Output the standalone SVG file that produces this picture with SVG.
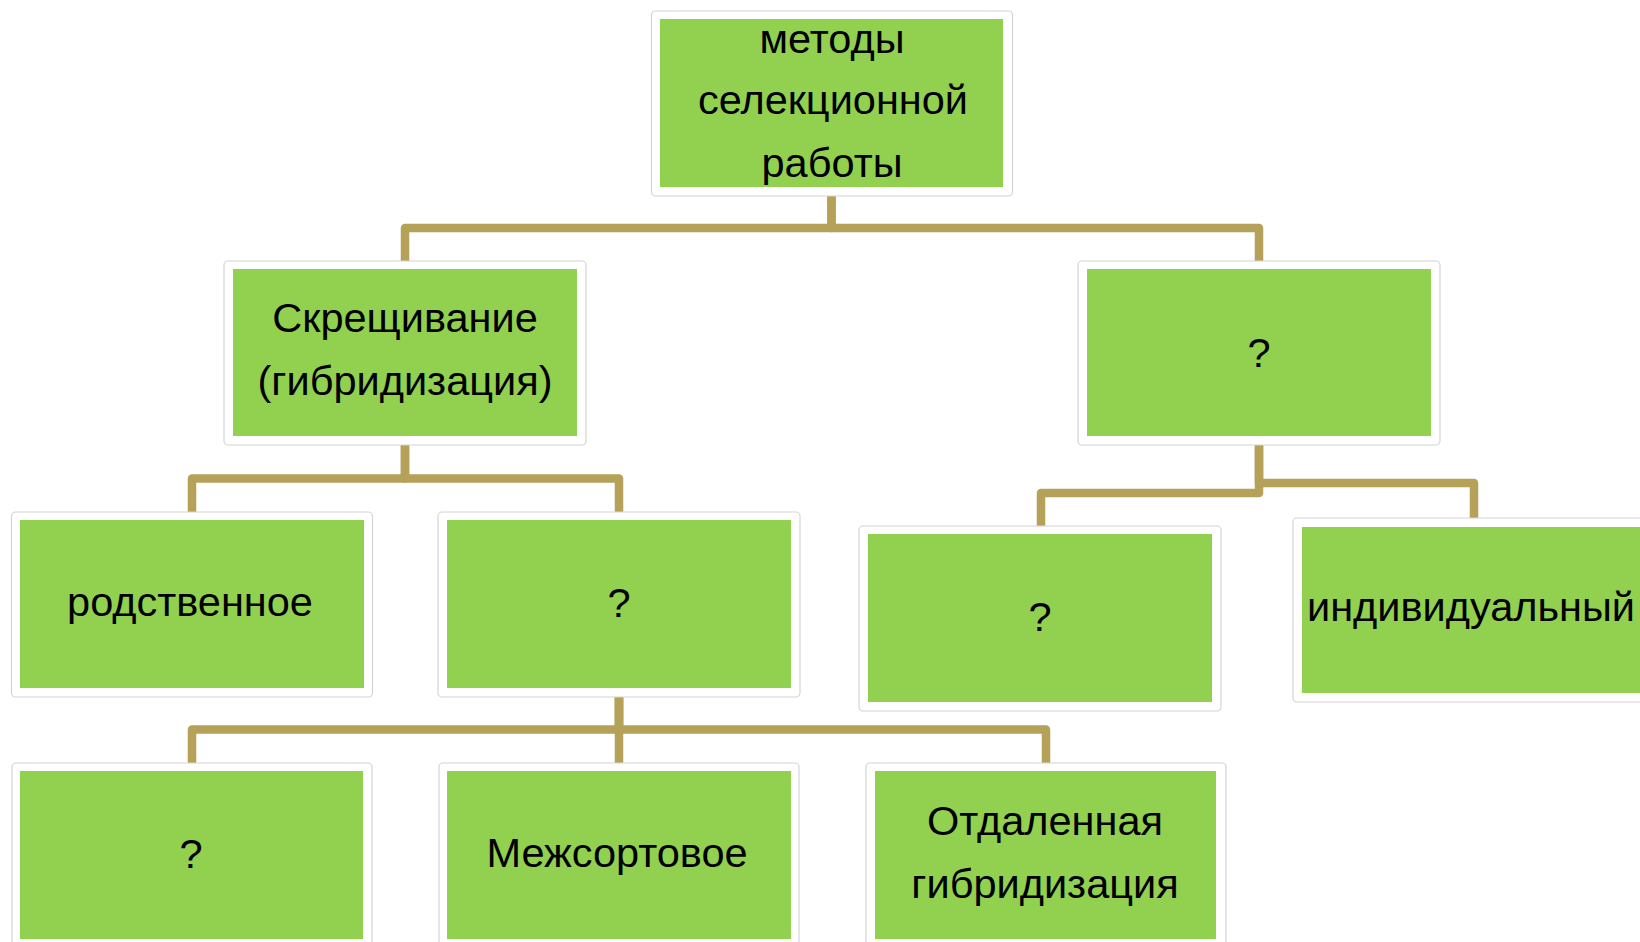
<svg xmlns="http://www.w3.org/2000/svg" width="1640" height="942" viewBox="0 0 1640 942">
<style>
.frame{fill:#ffffff;stroke:#d4d4d4;stroke-width:1.2}
.box{fill:#92D050}
.t{font-family:"Liberation Sans",Arial,sans-serif;font-size:41.5px;fill:#000;text-anchor:middle}
.c{fill:none;stroke:#B5A158;stroke-width:8.5;stroke-linejoin:round;stroke-linecap:butt}
</style>
<rect width="1640" height="942" fill="#ffffff"/>
<g id="connectors">
<path class="c" d="M831.5,196 V228 H405 V261"/>
<path class="c" d="M831.5,196 V228 H1259 V261"/>
<path class="c" d="M405,445 V478.5 H192 V512"/>
<path class="c" d="M405,445 V478.5 H619 V512"/>
<path class="c" d="M1259,445 V493 H1041 V526"/>
<path class="c" d="M1259,445 V483 H1474 V518"/>
<path class="c" d="M619,697 V729.5 H192 V763"/>
<path class="c" d="M619,697 V763"/>
<path class="c" d="M619,697 V729.5 H1046 V763"/>
</g>
<g id="root">
<rect class="frame" x="651.5" y="11" width="361" height="185" rx="4"/>
<rect class="box" x="660" y="19" width="343" height="168"/>
<text class="t" x="832" y="53">методы</text>
<text class="t" x="833" y="114">селекционной</text>
<text class="t" x="832" y="177">работы</text>
</g>
<g id="crossing">
<rect class="frame" x="224" y="261" width="362" height="184" rx="4"/>
<rect class="box" x="233" y="269" width="344" height="167"/>
<text class="t" x="405" y="332">Скрещивание</text>
<text class="t" x="405" y="395">(гибридизация)</text>
</g>
<g id="selection">
<rect class="frame" x="1078" y="261" width="362" height="184" rx="4"/>
<rect class="box" x="1087" y="269" width="344" height="167"/>
<text class="t" x="1259" y="367">?</text>
</g>
<g id="related">
<rect class="frame" x="11.5" y="512" width="361" height="185" rx="4"/>
<rect class="box" x="20" y="520" width="344" height="168"/>
<text class="t" x="190" y="616">родственное</text>
</g>
<g id="unrelated">
<rect class="frame" x="438" y="512" width="362" height="185" rx="4"/>
<rect class="box" x="447" y="520" width="344" height="168"/>
<text class="t" x="619" y="617">?</text>
</g>
<g id="mass">
<rect class="frame" x="859" y="526" width="362" height="185" rx="4"/>
<rect class="box" x="868" y="534" width="344" height="168"/>
<text class="t" x="1040" y="631">?</text>
</g>
<g id="individual">
<rect class="frame" x="1293" y="518" width="362" height="184" rx="4"/>
<rect class="box" x="1302" y="527" width="344" height="166"/>
<text class="t" x="1471" y="621">индивидуальный</text>
</g>
<g id="interline">
<rect class="frame" x="12" y="763" width="360" height="185" rx="4"/>
<rect class="box" x="20" y="771" width="343" height="168"/>
<text class="t" x="191" y="868">?</text>
</g>
<g id="intervarietal">
<rect class="frame" x="439" y="763" width="360" height="185" rx="4"/>
<rect class="box" x="447" y="771" width="344" height="168"/>
<text class="t" x="617" y="867">Межсортовое</text>
</g>
<g id="distant">
<rect class="frame" x="866" y="763" width="360" height="185" rx="4"/>
<rect class="box" x="875" y="771" width="341" height="168"/>
<text class="t" x="1045" y="835">Отдаленная</text>
<text class="t" x="1045" y="898">гибридизация</text>
</g>
</svg>
